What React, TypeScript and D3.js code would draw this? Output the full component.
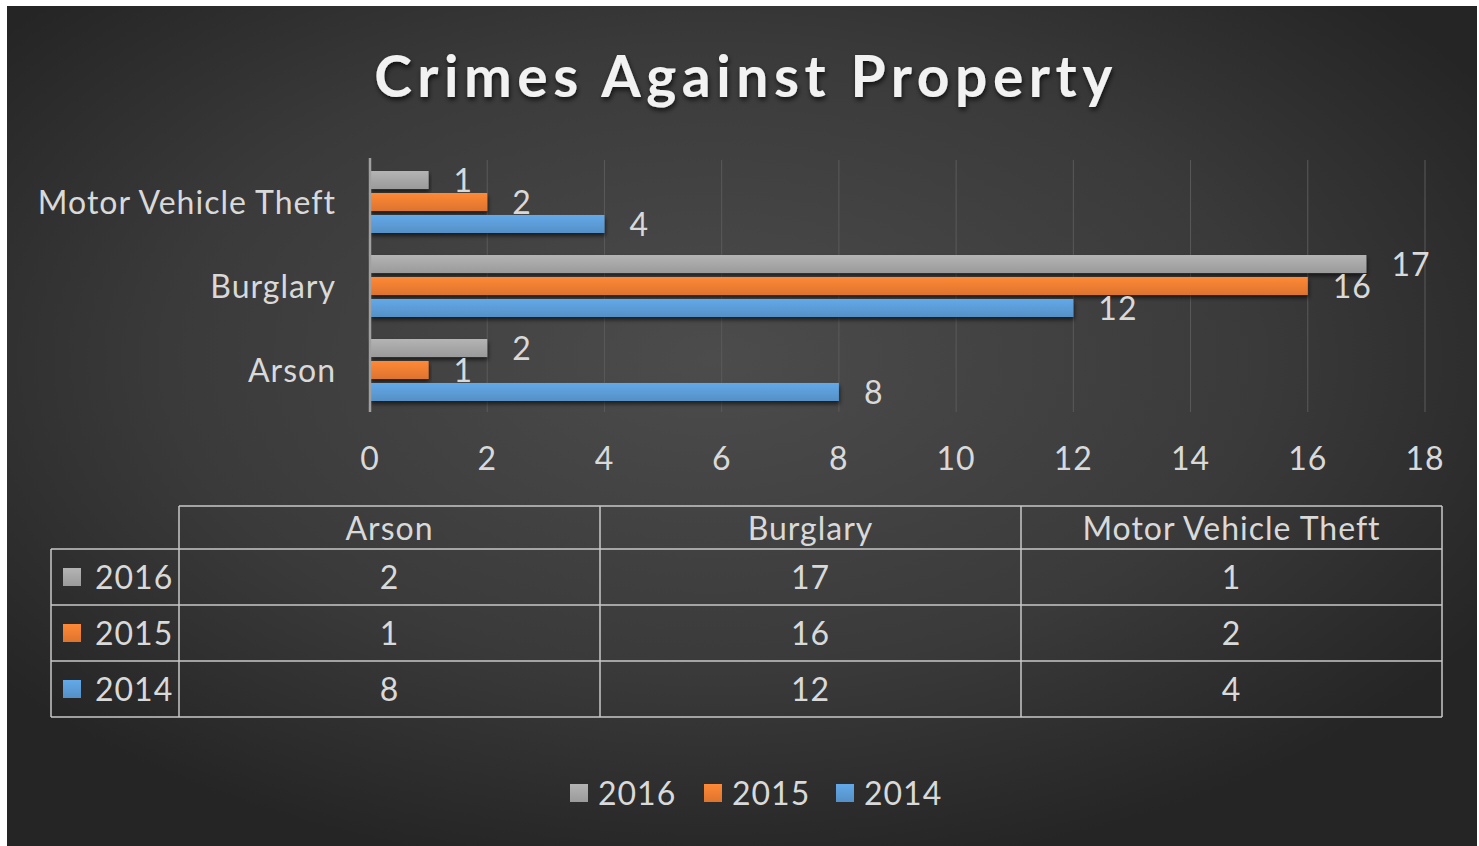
import React from "react";
import * as d3 from "d3";

const categories = ["Motor Vehicle Theft", "Burglary", "Arson"];
const tableCategories = ["Arson", "Burglary", "Motor Vehicle Theft"];
const seriesNames = ["2016", "2015", "2014"];
const seriesColors = ["#a5a5a5", "#ed7d31", "#5b9bd5"];
// values in the order of tableCategories (Arson, Burglary, Motor Vehicle Theft)
const values2016 = [2, 17, 1];
const values2015 = [1, 16, 2];
const values2014 = [8, 12, 4];
const xTicks = [0, 2, 4, 6, 8, 10, 12, 14, 16, 18];

const W = 1479;
const H = 846;
const FONT = "Lato, 'Open Sans', sans-serif";
const TXT = "#d9d9d9";
const FS = 32;
const LS = 1;

const App = () => {
  const seriesValues = [values2016, values2015, values2014];

  const x = d3.scaleLinear().domain([0, 18]).range([370, 1425]);
  const y = d3.scaleBand().domain(categories).range([160, 412]);
  const ySub = d3.scaleBand().domain(seriesNames).range([11, 73]).paddingInner(0.18);

  const col = d3.scaleBand().domain(tableCategories).range([179, 1442]);
  const rowTop = d3.scaleBand().domain(seriesNames).range([549, 717]);

  const valueOf = (si: number, cat: string) => seriesValues[si][tableCategories.indexOf(cat)];

  return (
    <svg width={W} height={H} style={{ position: "absolute", left: 0, top: 0, display: "block" }}>
      <defs>
        <radialGradient id="bg" cx="0.48" cy="0.42" r="0.62">
          <stop offset="0%" stopColor="#4c4c4c" />
          <stop offset="60%" stopColor="#3a3a3a" />
          <stop offset="100%" stopColor="#252525" />
        </radialGradient>
        {seriesColors.map((c, i) => (
          <linearGradient key={i} id={`bar${i}`} x1="0" x2="0" y1="0" y2="1">
            <stop offset="0%" stopColor={d3.color(c)!.brighter(0.25).toString()} />
            <stop offset="100%" stopColor={d3.color(c)!.darker(0.2).toString()} />
          </linearGradient>
        ))}
        <filter id="shadow" x="-5%" y="-30%" width="110%" height="180%">
          <feDropShadow dx="1" dy="3" stdDeviation="2" floodColor="#000" floodOpacity="0.6" />
        </filter>
        <filter id="tshadow" x="-5%" y="-20%" width="110%" height="150%">
          <feDropShadow dx="1" dy="3" stdDeviation="2.5" floodColor="#000" floodOpacity="0.7" />
        </filter>
      </defs>

      <rect x={0} y={0} width={W} height={H} fill="#ffffff" />
      <rect x={7} y={6} width={W - 9} height={H - 6} fill="url(#bg)" />

      {/* title */}
      <text
        x={746}
        y={97}
        textAnchor="middle"
        fill="#f2f2f2"
        fontFamily={FONT}
        fontWeight={700}
        fontSize={57}
        letterSpacing={5.5}
        filter="url(#tshadow)"
      >
        Crimes Against Property
      </text>

      {/* gridlines */}
      {xTicks.slice(1).map((t) => (
        <line key={t} x1={x(t)} x2={x(t)} y1={160} y2={412} stroke="#5a5a5a" strokeWidth={1} />
      ))}

      {/* bars */}
      {categories.map((cat) => (
        <g key={cat} transform={`translate(0,${y(cat)})`}>
          {seriesNames.map((s, si) => {
            const v = valueOf(si, cat);
            const by = ySub(s)!;
            return (
              <g key={s}>
                <rect
                  x={x(0)}
                  y={by}
                  width={x(v) - x(0)}
                  height={ySub.bandwidth()}
                  fill={`url(#bar${si})`}
                  filter="url(#shadow)"
                />
                <text
                  x={x(v) + 25}
                  y={by + ySub.bandwidth() / 2}
                  dy="0.36em"
                  fill={TXT}
                  fontFamily={FONT}
                  fontSize={FS}
                  letterSpacing={LS}
                >
                  {v}
                </text>
              </g>
            );
          })}
        </g>
      ))}

      {/* axis line */}
      <line x1={x(0)} x2={x(0)} y1={158} y2={412} stroke="#a0a0a0" strokeWidth={2.5} />

      {/* category labels */}
      {categories.map((cat) => (
        <text
          key={cat}
          x={336}
          y={y(cat)! + y.bandwidth() / 2}
          dy="0.36em"
          textAnchor="end"
          fill={TXT}
          fontFamily={FONT}
          fontSize={FS}
          letterSpacing={LS}
        >
          {cat}
        </text>
      ))}

      {/* x tick labels */}
      {xTicks.map((t) => (
        <text
          key={t}
          x={x(t)}
          y={458}
          dy="0.36em"
          textAnchor="middle"
          fill={TXT}
          fontFamily={FONT}
          fontSize={FS}
          letterSpacing={LS}
        >
          {t}
        </text>
      ))}

      {/* data table */}
      <g stroke="#c8c8c8" strokeWidth={1.5} fill="none">
        <line x1={179} x2={1442} y1={506} y2={506} />
        {seriesNames.map((s) => (
          <line key={s} x1={51} x2={1442} y1={rowTop(s)} y2={rowTop(s)} />
        ))}
        <line x1={51} x2={1442} y1={717} y2={717} />
        <line x1={51} x2={51} y1={549} y2={717} />
        {tableCategories.map((c) => (
          <line key={c} x1={col(c)} x2={col(c)} y1={506} y2={717} />
        ))}
        <line x1={1442} x2={1442} y1={506} y2={717} />
      </g>
      {tableCategories.map((c) => (
        <text
          key={c}
          x={col(c)! + col.bandwidth() / 2}
          y={528}
          dy="0.36em"
          textAnchor="middle"
          fill={TXT}
          fontFamily={FONT}
          fontSize={FS}
          letterSpacing={LS}
        >
          {c}
        </text>
      ))}
      {seriesNames.map((s, si) => {
        const cy = rowTop(s)! + rowTop.bandwidth() / 2;
        return (
          <g key={s}>
            <rect x={63} y={cy - 9} width={18} height={18} fill={`url(#bar${si})`} />
            <text x={95} y={cy} dy="0.36em" fill={TXT} fontFamily={FONT} fontSize={FS} letterSpacing={LS}>
              {s}
            </text>
            {tableCategories.map((c) => (
              <text
                key={c}
                x={col(c)! + col.bandwidth() / 2}
                y={cy}
                dy="0.36em"
                textAnchor="middle"
                fill={TXT}
                fontFamily={FONT}
                fontSize={FS}
                letterSpacing={LS}
              >
                {valueOf(si, c)}
              </text>
            ))}
          </g>
        );
      })}

      {/* legend */}
      {seriesNames.map((s, si) => {
        const lx = [570, 704, 836][si];
        return (
          <g key={s}>
            <rect x={lx} y={784} width={18} height={18} fill={`url(#bar${si})`} />
            <text x={lx + 28} y={793} dy="0.36em" fill={TXT} fontFamily={FONT} fontSize={FS} letterSpacing={LS}>
              {s}
            </text>
          </g>
        );
      })}
    </svg>
  );
};

export default App;
